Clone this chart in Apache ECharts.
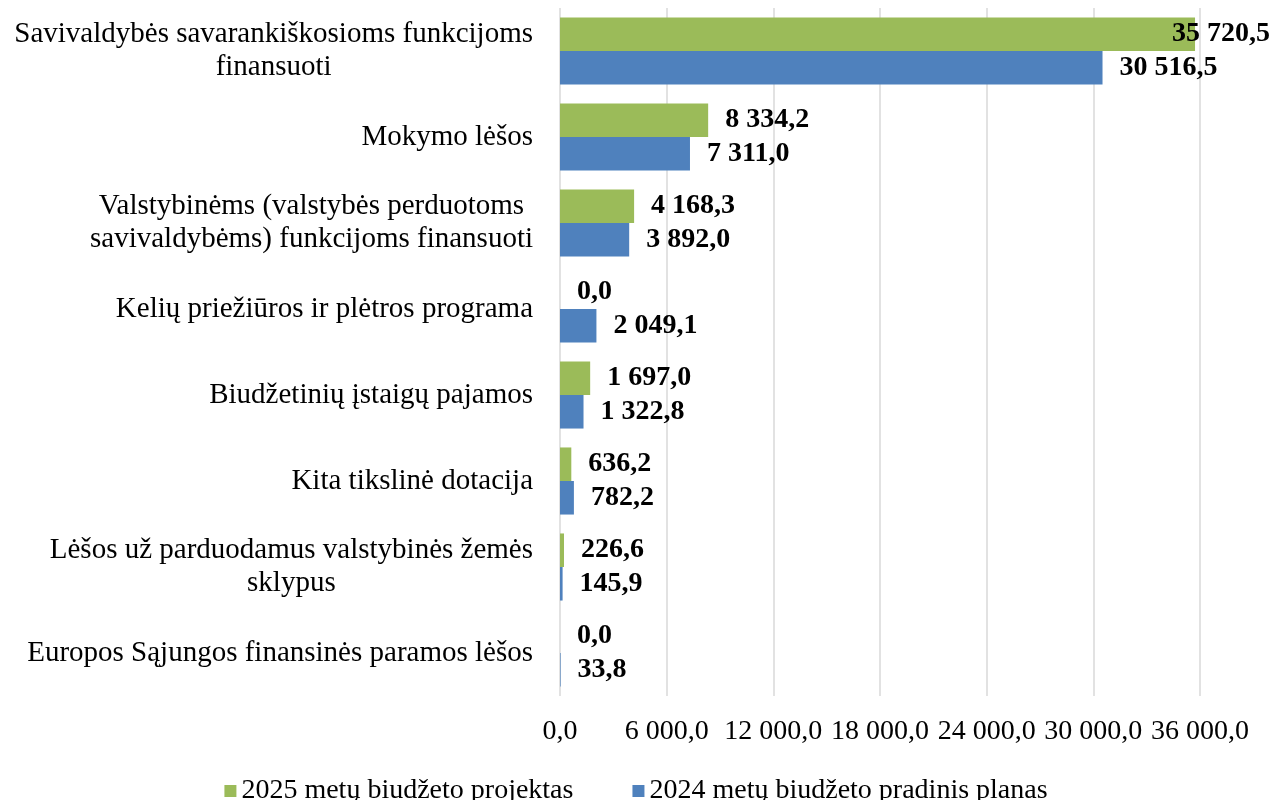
<!DOCTYPE html>
<html>
<head>
<meta charset="utf-8">
<script src="https://cdn.jsdelivr.net/npm/echarts@6/dist/echarts.min.js"></script>
<style>
  html, body { margin: 0; padding: 0; background: #ffffff; }
  #chart { width: 1272px; height: 800px; }
</style>
</head>
<body>
<div id="chart"></div>
<script>
const categories = [
  "Savivaldybės savarankiškosioms funkcijoms\nfinansuoti",
  "Mokymo lėšos",
  "Valstybinėms (valstybės perduotoms\nsavivaldybėms) funkcijoms finansuoti",
  "Kelių priežiūros ir plėtros programa",
  "Biudžetinių įstaigų pajamos",
  "Kita tikslinė dotacija",
  "Lėšos už parduodamus valstybinės žemės\nsklypus",
  "Europos Sąjungos finansinės paramos lėšos"
];
const seriesNames = ["2025 metų biudžeto projektas", "2024 metų biudžeto pradinis planas"];
const values2025 = [35720.5, 8334.2, 4168.3, 0.0, 1697.0, 636.2, 226.6, 0.0];
const values2024 = [30516.5, 7311.0, 3892.0, 2049.1, 1322.8, 782.2, 145.9, 33.8];
const xTicks = [0, 6000, 12000, 18000, 24000, 30000, 36000];

const FONT = "'Times New Roman', 'Liberation Serif', serif";
const GREEN = '#9bbb59';
const BLUE = '#4f81bd';

function fmt(v) {
  const s = Number(v).toFixed(1);
  const parts = s.split('.');
  const intPart = parts[0].replace(/\B(?=(\d{3})+(?!\d))/g, '\u00a0');
  return intPart + ',' + parts[1];
}

function labelCfg() {
  return {
    show: true,
    position: 'right',
    distance: 17,
    color: '#000',
    fontFamily: FONT,
    fontSize: 28,
    fontWeight: 'bold',
    formatter: p => fmt(p.value)
  };
}

const greenData = values2025.map((v, i) => i === 0 ? { value: v, label: { offset: [-40, 0] } } : v);

const chart = echarts.init(document.getElementById('chart'), null, { renderer: 'canvas' });
chart.setOption({
  animation: false,
  backgroundColor: '#ffffff',
  grid: { left: 560, right: 72, top: 8, bottom: 104, containLabel: false },
  legend: {
    data: seriesNames,
    left: 'center',
    top: 772,
    icon: 'rect',
    itemWidth: 12,
    itemHeight: 12,
    itemGap: 59,
    textStyle: { fontFamily: FONT, fontSize: 28, color: '#000' }
  },
  xAxis: {
    type: 'value',
    min: xTicks[0],
    max: xTicks[xTicks.length - 1],
    interval: xTicks[1] - xTicks[0],
    axisLine: { show: false },
    axisTick: { show: false },
    splitLine: { show: true, lineStyle: { color: '#d9d9d9', width: 1.5 } },
    axisLabel: {
      margin: 22,
      color: '#000',
      fontFamily: FONT,
      fontSize: 28,
      formatter: v => fmt(v)
    }
  },
  yAxis: {
    type: 'category',
    data: categories,
    inverse: true,
    axisLine: { show: false },
    axisTick: { show: false },
    axisLabel: {
      margin: 27,
      align: 'right',
      color: '#000',
      fontFamily: FONT,
      fontSize: 29,
      formatter: v => v.split('\n').map(l => '{c|' + l + '}').join('\n'),
      rich: {
        c: { align: 'center', fontFamily: FONT, fontSize: 29, lineHeight: 33, color: '#000' }
      }
    }
  },
  series: [
    {
      name: seriesNames[0],
      type: 'bar',
      data: greenData,
      itemStyle: { color: GREEN },
      barGap: '0%',
      barCategoryGap: '22%',
      label: labelCfg()
    },
    {
      name: seriesNames[1],
      type: 'bar',
      data: values2024,
      itemStyle: { color: BLUE },
      barGap: '0%',
      barCategoryGap: '22%',
      label: labelCfg()
    }
  ]
});
</script>
</body>
</html>
